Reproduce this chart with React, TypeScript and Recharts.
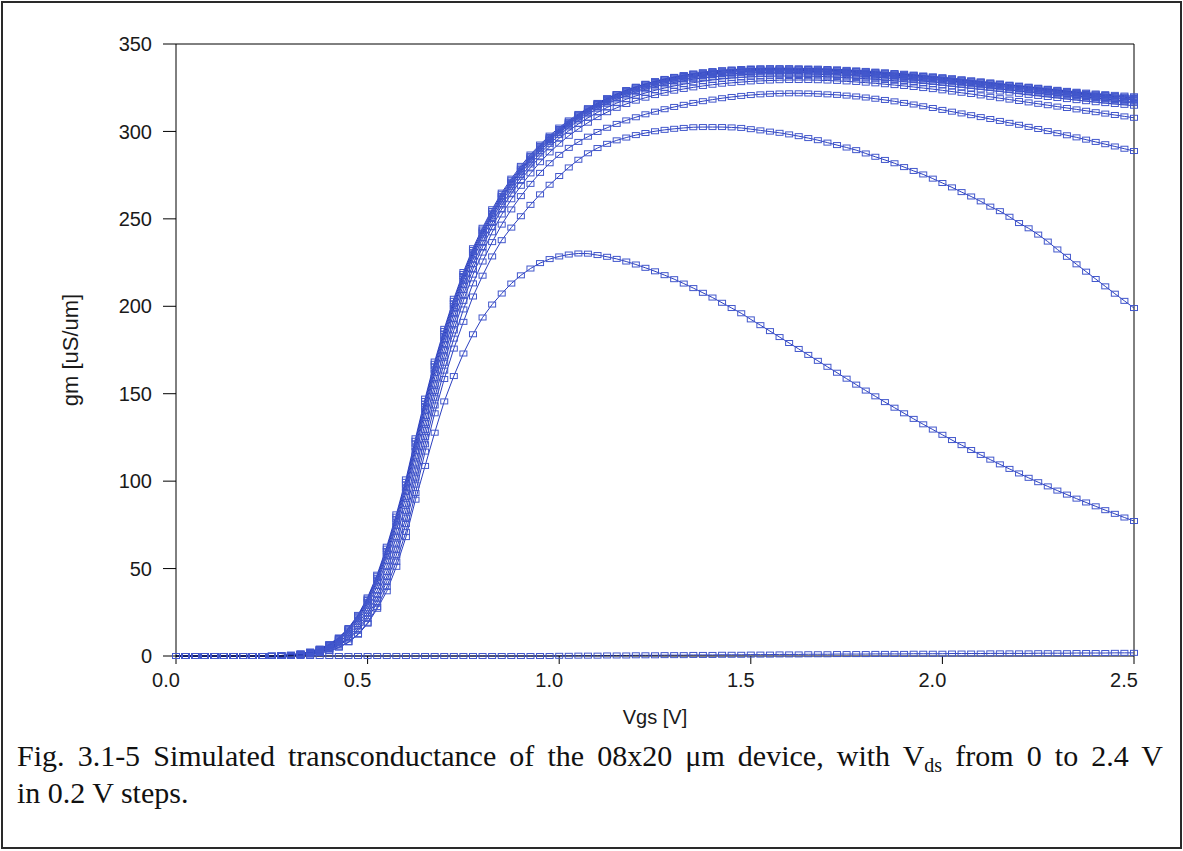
import React from 'react';
import { LineChart, Line, XAxis, YAxis, ReferenceLine } from 'recharts';

// Vgs sweep [V]
const vgs = [
  0, 0.025, 0.05, 0.075, 0.1, 0.125, 0.15, 0.175, 0.2, 0.225,
  0.25, 0.275, 0.3, 0.325, 0.35, 0.375, 0.4, 0.425, 0.45, 0.475,
  0.5, 0.525, 0.55, 0.575, 0.6, 0.625, 0.65, 0.675, 0.7, 0.725,
  0.75, 0.775, 0.8, 0.825, 0.85, 0.875, 0.9, 0.925, 0.95, 0.975,
  1.0, 1.025, 1.05, 1.075, 1.1, 1.125, 1.15, 1.175, 1.2, 1.225,
  1.25, 1.275, 1.3, 1.325, 1.35, 1.375, 1.4, 1.425, 1.45, 1.475,
  1.5, 1.525, 1.55, 1.575, 1.6, 1.625, 1.65, 1.675, 1.7, 1.725,
  1.75, 1.775, 1.8, 1.825, 1.85, 1.875, 1.9, 1.925, 1.95, 1.975,
  2.0, 2.025, 2.05, 2.075, 2.1, 2.125, 2.15, 2.175, 2.2, 2.225,
  2.25, 2.275, 2.3, 2.325, 2.35, 2.375, 2.4, 2.425, 2.45, 2.475, 2.5,
];

// gm [uS/um] for Vds = 0.0 ... 2.4 V
const gmVds00 = [
  0, 0, 0, 0, 0, 0, 0, 0, 0, 0,
  0, 0, 0, 0, 0, 0, 0, 0, 0, 0,
  0, 0, 0, 0, 0, 0, 0, 0, 0, 0,
  0, 0, 0, 0, 0, 0, 0, 0, 0, 0,
  0.1, 0.1, 0.2, 0.2, 0.2, 0.3, 0.3, 0.3, 0.4, 0.4,
  0.4, 0.5, 0.5, 0.5, 0.6, 0.6, 0.6, 0.7, 0.7, 0.7,
  0.8, 0.8, 0.8, 0.9, 0.9, 0.9, 1.0, 1.0, 1.0, 1.1,
  1.1, 1.1, 1.1, 1.2, 1.2, 1.2, 1.2, 1.3, 1.3, 1.3,
  1.3, 1.4, 1.4, 1.4, 1.4, 1.5, 1.5, 1.5, 1.5, 1.5,
  1.6, 1.6, 1.6, 1.6, 1.7, 1.7, 1.7, 1.7, 1.8, 1.8, 1.8,
];
const gmVds02 = [
  0, 0, 0, 0, 0, 0, 0, 0, 0, 0,
  0, 0.1, 0.3, 0.5, 0.9, 1.7, 2.8, 4.8, 7.8, 12.2,
  18.5, 27, 37, 51, 68, 89.4, 108.7, 127.7, 145.6, 160.1,
  173, 184, 193.6, 201, 207.3, 213, 217.7, 221.6, 224.7, 227,
  228.5, 229.6, 230.2, 230.1, 229.3, 228.3, 227.1, 225.6, 223.9, 222,
  220, 217.8, 215.5, 213, 210.4, 207.7, 205, 202, 199, 196,
  192.5, 189.2, 185.8, 182.4, 179, 175.6, 172.2, 168.8, 165.4, 162,
  158.6, 155.2, 151.8, 148.5, 145.2, 142, 138.8, 135.6, 132.5, 129.5,
  126.5, 123.5, 120.6, 117.8, 115, 112.3, 109.6, 107, 104.4, 101.9,
  99.4, 97, 94.6, 92.3, 90, 87.8, 85.6, 83.4, 81.3, 79.2, 77.2,
];
const gmVds04 = [
  0, 0, 0, 0, 0, 0, 0, 0, 0, 0,
  0, 0.1, 0.3, 0.5, 0.9, 1.7, 3, 5, 8, 12.5,
  19, 28, 39.5, 54, 71, 93.2, 116.9, 138.8, 158.4, 175.8,
  191.1, 205.6, 217.5, 228.5, 237.8, 245, 251.5, 258, 264, 269.5,
  274.5, 279.4, 283.8, 287.5, 290.5, 292.9, 294.9, 296.5, 297.9, 299.1,
  300.1, 300.9, 301.5, 302, 302.4, 302.5, 302.5, 302.5, 302.3, 302,
  301.3, 300.6, 299.9, 299.2, 298.3, 297.3, 296.2, 295, 293.6, 292.2,
  290.8, 289.3, 287.4, 285.5, 283.7, 281.8, 279.6, 277.4, 275.4, 273,
  270.5, 268, 265.3, 262.8, 260, 257, 254.4, 251.2, 247.6, 244.6,
  241, 237, 232.5, 228.3, 224, 219.8, 215.6, 211.4, 207.2, 203.1, 199,
];
const gmVds06 = [
  0, 0, 0, 0, 0, 0, 0, 0, 0, 0,
  0, 0.1, 0.2, 0.6, 1.2, 2.2, 3.7, 6, 9.5, 14.4,
  21.3, 30.5, 42.6, 57.7, 75.5, 98, 121.1, 143.3, 163.2, 181.5,
  198.2, 213.1, 225.6, 236.7, 246.7, 255.4, 263, 270, 276.3, 281.8,
  286.6, 290.6, 294, 297, 299.7, 302.1, 304.3, 306.3, 308.1, 309.8,
  311.3, 312.7, 314, 315.2, 316.3, 317.3, 318.2, 319, 319.7, 320.3,
  320.8, 321.2, 321.5, 321.7, 321.8, 321.8, 321.7, 321.5, 321.2, 320.9,
  320.5, 320, 319.4, 318.7, 318, 317.2, 316.3, 315.4, 314.4, 313.4,
  312.3, 311.3, 310.3, 309.3, 308.2, 307.1, 306, 304.9, 303.8, 302.6,
  301.4, 300.2, 299, 297.8, 296.6, 295.3, 294, 292.7, 291.4, 290.1, 288.8,
];
const gmVds08 = [
  0, 0, 0, 0, 0, 0, 0, 0, 0, 0,
  0, 0.1, 0.2, 0.7, 1.3, 2.4, 4, 6.5, 10.2, 15.5,
  22.8, 32.5, 45.2, 60.9, 79.1, 102, 125.3, 147.7, 167.7, 186.2,
  203.1, 218.1, 230.7, 242.3, 252.5, 261.2, 268.9, 276, 282.4, 288,
  293, 297.5, 301.5, 305, 308.2, 311, 313.5, 315.7, 317.6, 319.3,
  320.8, 322.1, 323.3, 324.3, 325.2, 326, 326.7, 327.3, 327.8, 328.2,
  328.6, 328.9, 329.1, 329.3, 329.4, 329.4, 329.4, 329.3, 329.1, 328.9,
  328.6, 328.3, 327.9, 327.5, 327, 326.5, 326, 325.4, 324.8, 324.2,
  323.5, 322.8, 322.1, 321.4, 320.6, 319.8, 319, 318.2, 317.4, 316.6,
  315.8, 315, 314.2, 313.4, 312.6, 311.8, 311, 310.2, 309.4, 308.6, 307.8,
];
const gmVds10 = [
  0, 0, 0, 0, 0, 0, 0, 0, 0, 0,
  0, 0.1, 0.3, 0.8, 1.5, 2.7, 4.5, 7.2, 11.1, 16.8,
  24.5, 34.8, 48.1, 64.3, 83, 106.1, 129.3, 151.6, 171.4, 189.8,
  206.5, 221.4, 233.9, 245.4, 255.6, 264.4, 272.2, 279.3, 285.7, 291.2,
  296.1, 300.4, 304.3, 307.8, 310.9, 313.7, 316.2, 318.4, 320.3, 322,
  323.5, 324.8, 326, 327, 327.9, 328.7, 329.4, 330, 330.5, 330.9,
  331.2, 331.4, 331.6, 331.7, 331.7, 331.7, 331.6, 331.5, 331.3, 331.1,
  330.8, 330.5, 330.2, 329.8, 329.4, 329, 328.5, 328, 327.5, 327,
  326.4, 325.8, 325.2, 324.6, 324, 323.4, 322.8, 322.2, 321.5, 320.9,
  320.3, 319.7, 319.1, 318.5, 317.9, 317.3, 316.7, 316.2, 315.7, 315.2, 314.7,
];
const gmVds12 = [
  0, 0, 0, 0, 0, 0, 0, 0, 0, 0,
  0.1, 0.2, 0.4, 0.9, 1.7, 3, 5, 7.9, 12.2, 18.2,
  26.5, 37.4, 51.3, 68, 87, 110.1, 133.3, 155.3, 174.9, 192.9,
  209.4, 224, 236.3, 247.6, 257.7, 266.3, 274.1, 281.1, 287.4, 292.9,
  297.9, 302.3, 306.2, 309.8, 313, 315.8, 318.3, 320.5, 322.4, 324.1,
  325.6, 326.9, 328, 329, 329.9, 330.6, 331.2, 331.7, 332.1, 332.4,
  332.7, 332.9, 333, 333, 333, 332.9, 332.8, 332.7, 332.5, 332.3,
  332, 331.7, 331.4, 331, 330.6, 330.2, 329.8, 329.3, 328.8, 328.3,
  327.8, 327.3, 326.7, 326.1, 325.5, 324.9, 324.3, 323.7, 323.1, 322.5,
  321.9, 321.3, 320.7, 320.1, 319.5, 318.9, 318.3, 317.7, 317.2, 316.7, 316.2,
];
const gmVds14 = [
  0, 0, 0, 0, 0, 0, 0, 0, 0, 0,
  0.1, 0.2, 0.5, 1, 1.9, 3.3, 5.5, 8.7, 13.3, 19.7,
  28.5, 40, 54.5, 71.7, 91, 114.2, 137.3, 159, 178.4, 196.1,
  212.3, 226.6, 238.9, 249.9, 259.8, 268.3, 275.9, 282.8, 288.9, 294.3,
  299.2, 303.5, 307.4, 310.9, 314, 316.8, 319.2, 321.4, 323.3, 325,
  326.5, 327.8, 328.9, 329.9, 330.8, 331.5, 332.1, 332.6, 333, 333.3,
  333.5, 333.7, 333.8, 333.8, 333.8, 333.7, 333.6, 333.5, 333.3, 333.1,
  332.8, 332.5, 332.2, 331.8, 331.4, 331, 330.6, 330.1, 329.6, 329.1,
  328.6, 328.1, 327.5, 326.9, 326.3, 325.7, 325.1, 324.5, 323.9, 323.3,
  322.7, 322.1, 321.5, 320.9, 320.3, 319.7, 319.1, 318.5, 318, 317.5, 317,
];
const gmVds16 = [
  0, 0, 0, 0, 0, 0, 0, 0, 0, 0,
  0.1, 0.2, 0.5, 1.2, 2.1, 3.6, 5.9, 9.3, 14.1, 20.9,
  30, 42, 56.9, 74.5, 94, 117.3, 140.3, 161.9, 181, 198.6,
  214.5, 228.5, 240.6, 251.5, 261.3, 269.6, 277.1, 283.8, 289.8, 295.1,
  299.9, 304.2, 308.1, 311.6, 314.7, 317.5, 320, 322.2, 324.1, 325.8,
  327.3, 328.6, 329.7, 330.7, 331.6, 332.3, 332.9, 333.4, 333.8, 334.1,
  334.3, 334.5, 334.5, 334.5, 334.5, 334.4, 334.3, 334.2, 334, 333.8,
  333.5, 333.2, 332.9, 332.5, 332.1, 331.7, 331.3, 330.8, 330.3, 329.8,
  329.3, 328.8, 328.2, 327.6, 327, 326.4, 325.8, 325.2, 324.6, 324,
  323.4, 322.8, 322.2, 321.6, 321, 320.4, 319.8, 319.3, 318.8, 318.4, 318,
];
const gmVds18 = [
  0, 0, 0, 0, 0, 0, 0, 0, 0, 0,
  0.1, 0.2, 0.6, 1.2, 2.2, 3.8, 6.1, 9.6, 14.6, 21.6,
  31, 43.2, 58.5, 76.4, 96, 119.4, 142.3, 163.7, 182.7, 200.1,
  215.9, 229.8, 241.7, 252.5, 262.2, 270.4, 277.8, 284.5, 290.4, 295.6,
  300.4, 304.7, 308.6, 312.1, 315.2, 318, 320.5, 322.7, 324.6, 326.3,
  327.8, 329.1, 330.2, 331.2, 332.1, 332.8, 333.4, 333.9, 334.3, 334.6,
  334.8, 335, 335, 335, 335, 334.9, 334.8, 334.7, 334.5, 334.3,
  334, 333.7, 333.4, 333, 332.6, 332.2, 331.8, 331.3, 330.8, 330.3,
  329.8, 329.3, 328.7, 328.1, 327.5, 326.9, 326.3, 325.7, 325.1, 324.5,
  323.9, 323.3, 322.7, 322.1, 321.5, 320.9, 320.3, 319.8, 319.3, 318.9, 318.5,
];
const gmVds20 = [
  0, 0, 0, 0, 0, 0, 0, 0, 0, 0,
  0.1, 0.3, 0.6, 1.3, 2.3, 3.9, 6.4, 10, 15.2, 22.4,
  32, 44.5, 60.1, 78.2, 98, 121.4, 144.2, 165.6, 184.4, 201.7,
  217.3, 231.1, 242.8, 253.5, 263.1, 271.2, 278.6, 285.2, 291, 296.2,
  300.9, 305.2, 309.1, 312.6, 315.7, 318.5, 321, 323.2, 325.1, 326.8,
  328.3, 329.6, 330.7, 331.7, 332.6, 333.3, 333.9, 334.4, 334.8, 335.1,
  335.3, 335.5, 335.5, 335.5, 335.5, 335.4, 335.3, 335.2, 335, 334.8,
  334.5, 334.2, 333.9, 333.5, 333.1, 332.7, 332.3, 331.8, 331.3, 330.8,
  330.3, 329.8, 329.2, 328.6, 328, 327.4, 326.8, 326.2, 325.6, 325,
  324.4, 323.8, 323.2, 322.6, 322, 321.4, 320.9, 320.4, 319.9, 319.5, 319.1,
];
const gmVds22 = [
  0, 0, 0, 0, 0, 0, 0, 0, 0, 0,
  0.1, 0.3, 0.7, 1.35, 2.4, 4.1, 6.6, 10.3, 15.6, 23,
  32.8, 45.6, 61.4, 79.7, 99.6, 123.1, 145.8, 167.1, 185.9, 203.1,
  218.5, 232.2, 243.9, 254.5, 264.1, 272.1, 279.4, 285.9, 291.7, 296.8,
  301.4, 305.6, 309.5, 313, 316.1, 318.9, 321.4, 323.6, 325.5, 327.2,
  328.7, 330, 331.1, 332.1, 333, 333.7, 334.3, 334.8, 335.2, 335.5,
  335.7, 335.9, 335.9, 335.9, 335.9, 335.8, 335.7, 335.6, 335.4, 335.2,
  334.9, 334.6, 334.3, 333.9, 333.5, 333.1, 332.7, 332.2, 331.7, 331.2,
  330.7, 330.2, 329.6, 329, 328.4, 327.8, 327.2, 326.6, 326, 325.4,
  324.8, 324.2, 323.6, 323, 322.4, 321.8, 321.3, 320.8, 320.3, 319.9, 319.5,
];
const gmVds24 = [
  0, 0, 0, 0, 0, 0, 0, 0, 0, 0,
  0.1, 0.3, 0.7, 1.4, 2.5, 4.2, 6.8, 10.6, 16, 23.5,
  33.5, 46.5, 62.5, 81, 101, 124.5, 147.2, 168.4, 187.1, 204.3,
  219.6, 233.2, 244.9, 255.5, 265, 273, 280.3, 286.8, 292.5, 297.6,
  302.2, 306.3, 310, 313.3, 316.3, 319, 321.4, 323.6, 325.5, 327.2,
  328.7, 330, 331.2, 332.2, 333.1, 333.8, 334.5, 335, 335.4, 335.7,
  336, 336.1, 336.2, 336.2, 336.2, 336.1, 336, 335.9, 335.7, 335.5,
  335.2, 334.9, 334.6, 334.2, 333.8, 333.4, 333, 332.5, 332, 331.5,
  331, 330.4, 329.8, 329.2, 328.6, 328, 327.4, 326.7, 326.2, 325.6,
  325, 324.4, 323.8, 323.2, 322.7, 322.2, 321.7, 321.3, 320.9, 320.5, 320.1,
];

const vdsLabels = ['0.0', '0.2', '0.4', '0.6', '0.8', '1.0', '1.2', '1.4', '1.6', '1.8', '2.0', '2.2', '2.4'];
const gmSeries = [
  gmVds00, gmVds02, gmVds04, gmVds06, gmVds08, gmVds10, gmVds12,
  gmVds14, gmVds16, gmVds18, gmVds20, gmVds22, gmVds24,
];

const xTicks = [0, 0.5, 1.0, 1.5, 2.0, 2.5];
const yTicks = [0, 50, 100, 150, 200, 250, 300, 350];

const LINE_COLOR = '#2b3fbf';
const MARK_COLOR = '#4257cc';
const SANS = '"Liberation Sans", Arial, sans-serif';
const SERIF = '"Liberation Serif", "Times New Roman", serif';

const data = vgs.map((v, i) => {
  const row: Record<string, number> = { vgs: v };
  gmSeries.forEach((s, k) => {
    row[`vds${k}`] = s[i];
  });
  return row;
});

const renderSquare = (p: any) => {
  const { cx, cy, index } = p;
  if (cx == null || cy == null) return <g key={index} />;
  return (
    <rect
      key={index}
      x={cx - 3.5}
      y={cy - 2.5}
      width={7}
      height={5}
      fill="none"
      stroke={MARK_COLOR}
      strokeWidth={1}
    />
  );
};

const XTick = (props: any) => {
  const { x, y, payload } = props;
  return (
    <text x={x - 10} y={y} dy="0.71em" textAnchor="middle" fontSize={20} fontFamily={SANS} fill="#1a1a1a">
      {Number(payload.value).toFixed(1)}
    </text>
  );
};

const YTitle = (props: any) => {
  const vb = props.viewBox;
  const x = vb.x + 50;
  const y = vb.y + vb.height / 2;
  return (
    <text x={x} y={y} transform={`rotate(-90 ${x} ${y})`} textAnchor="middle" dominantBaseline="central" fontSize={22} fontFamily={SANS} fill="#1a1a1a">
      gm [uS/um]
    </text>
  );
};

const XTitle = (props: any) => {
  const vb = props.viewBox;
  return (
    <text x={vb.x + vb.width / 2} y={vb.y + 68} textAnchor="middle" fontSize={20} fontFamily={SANS} fill="#1a1a1a">
      Vgs [V]
    </text>
  );
};

export default function App() {
  return (
    <div style={{ position: 'absolute', left: 0, top: 0, width: 1183, height: 851, background: '#fff' }}>
      <div
        style={{
          position: 'absolute',
          left: 1,
          top: 1,
          width: 1177,
          height: 844,
          border: '2px solid #2a2a2a',
        }}
      />
      <div style={{ position: 'absolute', left: 0, top: 0 }}>
        <LineChart width={1183} height={740} data={data} margin={{ top: 44, right: 49, left: 20, bottom: 0 }}>
          <XAxis
            dataKey="vgs"
            type="number"
            domain={[0, 2.5]}
            ticks={xTicks}
            tickSize={8}
            tickMargin={9}
            height={84}
            stroke="#000"
            tick={<XTick />}
            label={<XTitle />}
          />
          <YAxis
            type="number"
            domain={[0, 350]}
            ticks={yTicks}
            tickSize={13}
            tickMargin={11}
            width={156}
            stroke="#000"
            tick={{ fontSize: 20, fill: '#1a1a1a', fontFamily: SANS }}
            label={<YTitle />}
          />
          <ReferenceLine y={350} stroke="#000" strokeWidth={1} />
          <ReferenceLine x={2.5} stroke="#000" strokeWidth={1} />
          {vdsLabels.map((lbl, k) => (
            <Line
              key={lbl}
              name={`Vds = ${lbl} V`}
              dataKey={`vds${k}`}
              type="linear"
              stroke={LINE_COLOR}
              strokeWidth={1}
              dot={renderSquare}
              activeDot={false}
              isAnimationActive={false}
            />
          ))}
        </LineChart>
      </div>
      <div
        style={{
          position: 'absolute',
          left: 17,
          top: 739,
          width: 1146,
          fontFamily: SERIF,
          fontSize: 30,
          lineHeight: '33px',
          color: '#111',
        }}
      >
        <div style={{ textAlign: 'justify', textAlignLast: 'justify', whiteSpace: 'normal' }}>
          Fig. 3.1-5 Simulated transconductance of the 08x20 μm device, with V
          <sub style={{ fontSize: 20, verticalAlign: 'baseline', position: 'relative', top: 6 }}>ds</sub> from 0 to 2.4 V
        </div>
        <div>in 0.2 V steps.</div>
      </div>
    </div>
  );
}
